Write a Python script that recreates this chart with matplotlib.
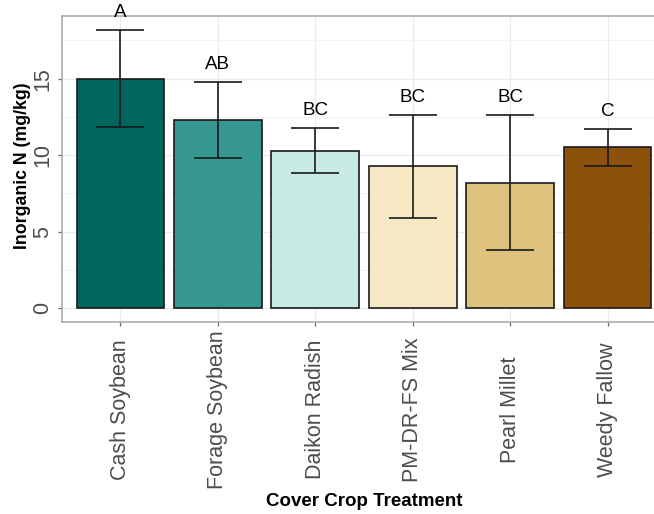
import matplotlib
matplotlib.use("Agg")
import matplotlib.pyplot as plt
import numpy as np

plt.rcParams['font.family'] = ['Liberation Sans', 'DejaVu Sans']

categories = ["Cash Soybean", "Forage Soybean", "Daikon Radish",
              "PM-DR-FS Mix", "Pearl Millet", "Weedy Fallow"]
means = [15.0, 12.32, 10.3, 9.3, 8.21, 10.52]
upper = [18.2, 14.8, 11.78, 12.62, 12.6, 11.72]
lower = [11.82, 9.84, 8.82, 5.9, 3.79, 9.32]
letters = ["A", "AB", "BC", "BC", "BC", "C"]
colors = ["#01665e", "#35978f", "#c7eae5", "#f6e8c3", "#dfc27d", "#8c510a"]
yticks = [0, 5, 10, 15]
yminor = [2.5, 7.5, 12.5, 17.5]

W, H = 654, 514
fig = plt.figure(figsize=(W / 100, H / 100), dpi=100)
ax = fig.add_axes([62 / W, 1 - 322 / H, 604 / W, 306 / H])

x = np.arange(1, len(categories) + 1)
means_a = np.array(means)
up = np.array(upper) - means_a
lo = means_a - np.array(lower)

ax.set_axisbelow(True)
ax.bar(x, means, width=0.9, color=colors, edgecolor="#1a1a1a", linewidth=1.2, zorder=2)
ax.errorbar(x, means, yerr=[lo, up], fmt="none", ecolor="#1a1a1a",
            elinewidth=1.2, capsize=17.5, capthick=1.2, zorder=3)
for xi, u, t in zip(x, upper, letters):
    ax.text(xi, u + 1.15, t, ha="center", va="center", fontsize=13.5,
            color="black", clip_on=False, zorder=4)

ax.set_xlim(0.4, 6.6)
ax.set_ylim(-0.91, 19.1)
ax.set_xticks(x)
ax.set_xticklabels(categories, rotation=90, va="center", ha="center")
ax.set_yticks(yticks)
ax.set_yticks(yminor, minor=True)
ax.set_yticklabels([str(v) for v in yticks], rotation=90, va="center", ha="right")

ax.tick_params(axis="x", which="major", length=2.9, width=0.9, color="#666666",
               labelsize=15.5, labelcolor="#4d4d4d", pad=60.0)
ax.tick_params(axis="y", which="major", length=2.9, width=0.9, color="#666666",
               labelsize=15.5, labelcolor="#4d4d4d", pad=3.5)
ax.tick_params(axis="y", which="minor", length=0)

ax.grid(True, which="major", color="#ebebeb", linewidth=0.9)
ax.grid(True, which="minor", axis="y", color="#f0f0f0", linewidth=0.6)

for s in ax.spines.values():
    s.set_color("#a6a6a6")
    s.set_linewidth(1.1)
ax.spines["right"].set_visible(False)

fig.text(364 / W, 1 - 502 / H, "Cover Crop Treatment", ha="center", va="center",
         fontsize=13.5, fontweight="bold", color="black")
fig.text(22.5 / W, 1 - 166 / H, "Inorganic N (mg/kg)", ha="center", va="center",
         rotation=90, fontsize=12.8, fontweight="bold", color="black")

fig.savefig("out.png", dpi=100)
